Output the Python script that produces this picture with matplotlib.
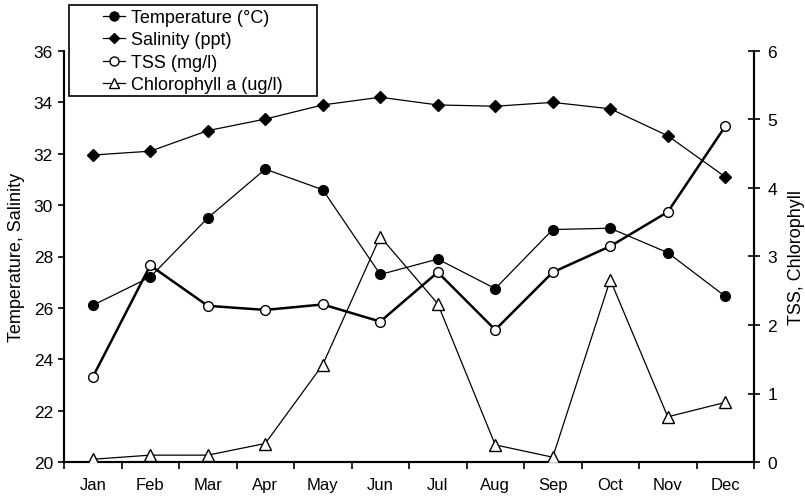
import numpy as np
import matplotlib.pyplot as plt
from matplotlib.lines import Line2D
from matplotlib.patches import Rectangle

plt.rcParams['font.family'] = ['Liberation Sans', 'DejaVu Sans']

months = ['Jan', 'Feb', 'Mar', 'Apr', 'May', 'Jun', 'Jul', 'Aug', 'Sep', 'Oct', 'Nov', 'Dec']
temperature = [26.1, 27.2, 29.5, 31.4, 30.6, 27.3, 27.9, 26.75, 29.05, 29.1, 28.15, 26.45]
salinity = [31.95, 32.1, 32.9, 33.35, 33.9, 34.2, 33.9, 33.85, 34.0, 33.75, 32.7, 31.1]
tss = [1.24, 2.87, 2.28, 2.22, 2.3, 2.05, 2.77, 1.93, 2.77, 3.15, 3.65, 4.9]
chlorophyll = [0.04, 0.1, 0.1, 0.27, 1.42, 3.29, 2.31, 0.25, 0.07, 2.66, 0.66, 0.87]

x = np.arange(len(months)) + 0.5

W, H = 805, 502
fig = plt.figure(figsize=(W / 100, H / 100), dpi=100)
ax = fig.add_axes([64 / W, 1 - 463 / H, (754 - 64) / W, (463 - 52) / H])
ax2 = ax.twinx()

# left axis: temperature and salinity
ax.plot(x, temperature, color='black', lw=0.9, marker='o', ms=7,
        mfc='black', mec='black', zorder=3)
ax.plot(x, salinity, color='black', lw=0.9, marker='D', ms=6,
        mfc='black', mec='black', zorder=3)

# right axis: TSS and chlorophyll
ax2.plot(x, tss, color='black', lw=1.8, marker='o', ms=7,
         mfc='white', mec='black', mew=1.0, zorder=3)
ax2.plot(x, chlorophyll, color='black', lw=0.9, marker='^', ms=8.5,
         mfc='white', mec='black', mew=1.0, zorder=3)

ax.set_xlim(0, 12)
ax.set_ylim(20, 36)
ax2.set_ylim(0, 6)

ax.set_xticks(np.arange(0, 13))
ax.set_xticklabels([])
ax.set_xticks(x, minor=True)
ax.set_xticklabels(months, minor=True, fontsize=12)
ax.tick_params(axis='x', which='minor', length=0, pad=11)
ax.tick_params(axis='x', which='major', length=5, width=1.2, direction='out')

ax.set_yticks(np.arange(20, 37, 2))
ax.tick_params(axis='y', length=4, width=1.2, direction='out', labelsize=12.5, pad=4)
ax2.set_yticks(np.arange(0, 7, 1))
ax2.tick_params(axis='y', length=9, width=1.2, direction='inout', labelsize=12.5, pad=5)

for a in (ax, ax2):
    a.spines['top'].set_visible(False)
    for s in ('left', 'right', 'bottom'):
        a.spines[s].set_linewidth(1.5)

ax.set_ylabel('Temperature, Salinity', fontsize=13, labelpad=6)
ax2.set_ylabel('TSS, Chlorophyll', fontsize=13, labelpad=8)

handles = [
    Line2D([], [], color='black', lw=0.9, marker='o', ms=6.5, mfc='black', mec='black'),
    Line2D([], [], color='black', lw=0.9, marker='D', ms=5.5, mfc='black', mec='black'),
    Line2D([], [], color='black', lw=0.9, marker='o', ms=6.5, mfc='white', mec='black'),
    Line2D([], [], color='black', lw=0.9, marker='^', ms=7, mfc='white', mec='black'),
]
labels = ['Temperature (°C)', 'Salinity (ppt)', 'TSS (mg/l)', 'Chlorophyll a (ug/l)']
leg = fig.legend(handles, labels, loc='upper left', bbox_to_anchor=(103 / W, 1 - 10 / H),
                 fontsize=13, frameon=False, handlelength=1.2, handletextpad=0.35,
                 labelspacing=0.3, borderpad=0, borderaxespad=0)
leg.set_zorder(10)

# legend box
fig.patches.append(Rectangle((69 / W, 1 - 97 / H), (317 - 69) / W, (97 - 6) / H,
                             transform=fig.transFigure, fill=True, facecolor='white',
                             edgecolor='black', lw=1.2, zorder=9))

fig.savefig('out.png', dpi=100)
